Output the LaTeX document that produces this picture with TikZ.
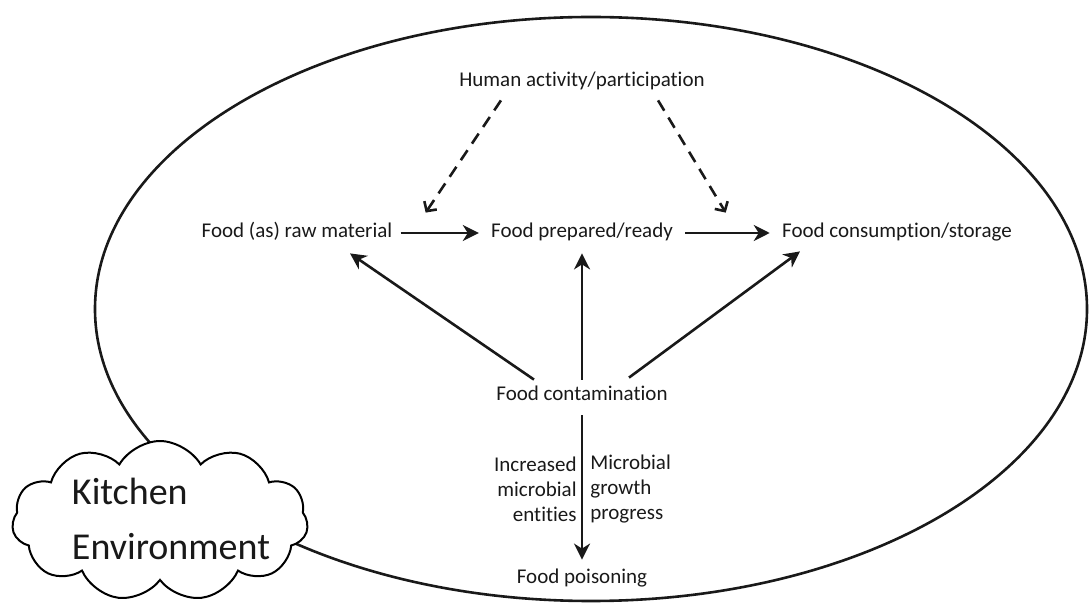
\documentclass[tikz,border=0pt]{standalone}
\usepackage{fontspec}
\setmainfont{Carlito}[Ligatures=NoCommon]
\usetikzlibrary{arrows.meta,shapes.symbols,calc}
\begin{document}
\begin{tikzpicture}[x=0.5pt,y=-0.5pt,
  lbl/.style={font=\fontsize{10.5}{12.5}\selectfont, text=black!90, inner sep=0pt,
              text height=7.5pt, text depth=2.5pt},
  side/.style={font=\fontsize{10.5}{12.5}\selectfont, text=black!90, inner sep=0pt},
  flow/.style={line width=1.3pt, black!90, -{Stealth[length=8pt,width=8pt,inset=2.5pt]}},
  human/.style={line width=1.3pt, black!90, dash pattern=on 6pt off 4pt,
                -{Straight Barb[length=3.5pt,width=7.5pt,line width=1.3pt]}},
]
\useasboundingbox (0,0) rectangle (1091,603);

% the kitchen as a large ellipse
\draw[line width=1.3pt, black!90] (591,309) ellipse [x radius=248pt, y radius=146pt];

% stages of the food
\node[lbl] (human) at (582,82)  {Human activity/participation};
\node[lbl] (raw)   at (297,233) {Food (as) raw material};
\node[lbl] (prep)  at (582,233) {Food prepared/ready};
\node[lbl] (cons)  at (897,233) {Food consumption/storage};
\node[lbl] (cont)  at (582,396) {Food contamination};
\node[lbl] (pois)  at (582,578) {Food poisoning};

% main flow
\draw[flow, shorten <=4pt, shorten >=6pt] (raw) -- (prep);
\draw[flow, shorten <=6pt, shorten >=6pt] (prep) -- (cons);

% human influence
\draw[human] ([xshift=21pt,yshift=-4pt]human.south west) -- ([xshift=16.5pt,yshift=5pt]raw.north east);
\draw[human] ([xshift=-23.5pt,yshift=-4pt]human.south east) -- ([xshift=-28pt,yshift=5pt]cons.north west);

% contamination spreading
\draw[flow] ([xshift=-24pt,yshift=3pt]cont.north) -- ([xshift=26.5pt,yshift=-5pt]raw.south);
\draw[flow] ([yshift=3pt]cont.north) -- ([yshift=-5pt]prep.south);
\draw[flow] ([xshift=23.5pt,yshift=4pt]cont.north) -- ([xshift=-48.5pt,yshift=-4pt]cons.south);
\draw[flow] ([yshift=-4.5pt]cont.south) -- ([yshift=4pt]pois.north);

% notes beside the last arrow
\coordinate (mid) at ($(cont)!0.5!(pois)$);
\node[side, align=right, anchor=east] (incr) at ([xshift=-2.5pt,yshift=-1pt]mid)
  {Increased\\microbial\\entities};
\node[side, align=left, anchor=west] (grow) at ([xshift=4pt,yshift=-1pt]mid)
  {Microbial\\growth\\progress};

% the surrounding kitchen environment
\node[cloud, cloud puffs=11, cloud puff arc=120, cloud ignores aspect, draw, fill=white, line width=1pt,
      minimum width=148pt, minimum height=80pt, inner sep=0pt] (kitchen) at (160,521) {};
\node[font=\fontsize{19}{27.5}\selectfont, text=black!90, align=left, inner sep=0pt]
  (kitchentext) at (171,519) {Kitchen\\Environment};
\end{tikzpicture}
\end{document}
